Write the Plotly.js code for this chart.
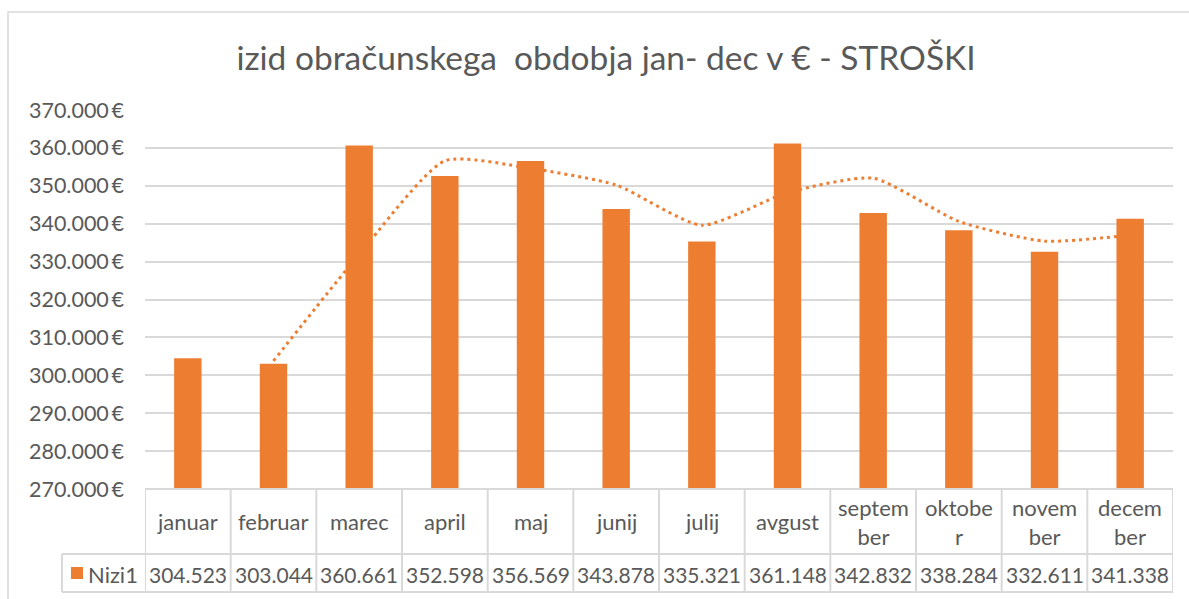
<!DOCTYPE html>
<html>
<head>
<meta charset="utf-8">
<script src="https://cdn.plot.ly/plotly-3.0.1.min.js"></script>
<style>html,body{margin:0;padding:0;background:#fff;}#chart{width:1189px;height:599px;}</style>
</head>
<body>
<div id="chart"></div>
<script>
// ---- data ----
const categories = ["januar","februar","marec","april","maj","junij","julij","avgust","september","oktober","november","december"];
const categoryLabels = ["januar","februar","marec","april","maj","junij","julij","avgust","septem<br>ber","oktobe<br>r","novem<br>ber","decem<br>ber"];
const values = [304523, 303044, 360661, 352598, 356569, 343878, 335321, 361148, 342832, 338284, 332611, 341338];
// dotted trend line (starts at februar)
const trendCategories = ["februar","marec","april","maj","junij","julij","avgust","september","oktober","november","december"];
const trendValues = [303800, 331900, 356600, 354600, 350200, 339600, 348200, 352000, 340600, 335400, 337000];
const seriesName = "Nizi1";
const yTicks = [270000, 280000, 290000, 300000, 310000, 320000, 330000, 340000, 350000, 360000, 370000];
const titleText = "izid obračunskega\u00a0 obdobja jan- dec v € - STROŠKI";

// ---- layout constants (pixels) ----
const W = 1189, H = 599;
const L = 145, R = 16, T = 110, B = 110;
const plotH = H - T - B;
const orange = "#ED7D31";
const grid = "#d9d9d9";
const txt = "#595959";
const font = "Lato, 'Open Sans', sans-serif";

function py(pix) { return (H - B - pix) / plotH; }      // pixel y -> paper y
function px(pix) { return (pix - L) / (W - L - R); }     // pixel x -> paper x
const fmt = v => v.toLocaleString('de-DE');

const n = categories.length;
const row1Top = 489, row1Bot = 554, row2Bot = 592, legendLeft = 62;

const shapes = [];
const annotations = [];
// outer chart border
shapes.push({type:'rect', xref:'paper', yref:'paper', x0:px(8), x1:px(1195), y0:py(12), y1:py(605), line:{color:'#d9d9d9', width:1.5}, layer:'below'});
// table lines
shapes.push({type:'line', xref:'x', yref:'paper', x0:-0.5, x1:n-0.5, y0:py(row1Top), y1:py(row1Top), line:{color:grid, width:2}});
shapes.push({type:'line', xref:'paper', yref:'paper', x0:px(legendLeft), x1:1, y0:py(row1Bot), y1:py(row1Bot), line:{color:grid, width:2}});
shapes.push({type:'line', xref:'paper', yref:'paper', x0:px(legendLeft), x1:1, y0:py(row2Bot), y1:py(row2Bot), line:{color:grid, width:2}});
shapes.push({type:'line', xref:'paper', yref:'paper', x0:px(legendLeft), x1:px(legendLeft), y0:py(row1Bot), y1:py(row2Bot), line:{color:grid, width:2}});
for (let i = 0; i <= n; i++) {
  shapes.push({type:'line', xref:'x', yref:'paper', x0:i-0.5, x1:i-0.5, y0:py(row1Top), y1:py(row2Bot), line:{color:grid, width:2}});
}
// legend key square
shapes.push({type:'rect', xref:'paper', yref:'paper', x0:px(71), x1:px(83), y0:py(567), y1:py(579), fillcolor:orange, line:{width:0}});

categories.forEach((c, i) => {
  annotations.push({xref:'x', yref:'paper', x:c, y:py((row1Top+row1Bot)/2), text:categoryLabels[i], showarrow:false,
    xanchor:'center', yanchor:'middle', font:{family:font, size:22, color:txt}});
  annotations.push({xref:'x', yref:'paper', x:c, y:py((row1Bot+row2Bot)/2 + 1), text:fmt(values[i]), showarrow:false,
    xanchor:'center', yanchor:'middle', font:{family:font, size:21, color:txt}});
});
annotations.push({xref:'paper', yref:'paper', x:px(86), y:py((row1Bot+row2Bot)/2 + 1), text:seriesName, showarrow:false,
  xanchor:'left', yanchor:'middle', font:{family:font, size:22, color:txt}});

const traces = [
  {type:'scatter', mode:'lines', x:trendCategories, y:trendValues, xaxis:'x', yaxis:'y',
   line:{color:orange, width:3, dash:'3px,4px', shape:'spline', smoothing:0.6}, hoverinfo:'skip', showlegend:false},
  {type:'bar', x:categories, y:values, xaxis:'x2', yaxis:'y2', name:seriesName, width:0.32,
   marker:{color:orange, line:{width:0}}, showlegend:false}
];

const layout = {
  width:W, height:H,
  margin:{l:L, r:R, t:T, b:B},
  paper_bgcolor:'#fff', plot_bgcolor:'rgba(0,0,0,0)',
  separators:',.',
  title:{text:titleText, x:606/W, xanchor:'center', xref:'container', y:1-58/H, yanchor:'middle',
         font:{family:font, size:33.5, color:txt}},
  xaxis:{type:'category', categoryarray:categories, categoryorder:'array', range:[-0.5, n-0.5],
         showticklabels:false, showgrid:false, zeroline:false, showline:false, ticks:''},
  yaxis:{range:[270000, 370000], tickvals:yTicks, ticktext:yTicks.map(v => fmt(v) + '\u2009€'),
         showgrid:true, gridcolor:grid, gridwidth:2, zeroline:false, showline:false, ticks:'',
         ticklabelstandoff:20, tickfont:{family:font, size:21.5, color:txt}},
  xaxis2:{type:'category', categoryarray:categories, categoryorder:'array', range:[-0.5, n-0.5], overlaying:'x',
          showticklabels:false, showgrid:false, zeroline:false, showline:false, ticks:''},
  yaxis2:{range:[270000, 370000], overlaying:'y', showticklabels:false, showgrid:false, zeroline:false, showline:false, ticks:''},
  shapes:shapes,
  annotations:annotations,
  showlegend:false
};

Plotly.newPlot('chart', traces, layout, {displayModeBar:false, staticPlot:true});
</script>
</body>
</html>
